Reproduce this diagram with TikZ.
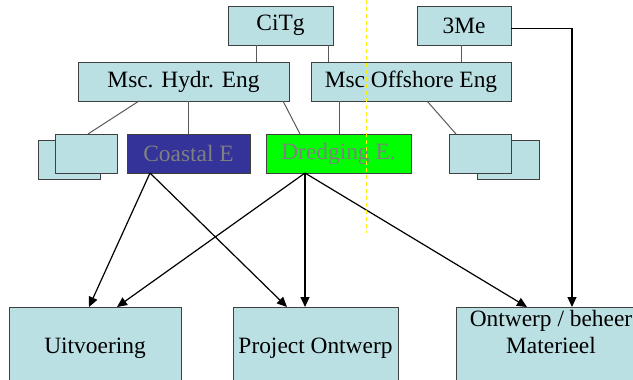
\documentclass[tikz,border=0pt]{standalone}
\usepackage{fontspec}
\setmainfont{Liberation Serif}
\usetikzlibrary{calc,arrows.meta}
\definecolor{boxblue}{HTML}{BBE0E3}
\definecolor{coastblue}{HTML}{333399}
\definecolor{dredgegreen}{HTML}{00FF00}
\definecolor{dimtext}{HTML}{808080}
\begin{document}
\begin{tikzpicture}[x=0.5pt,y=-0.5pt,font=\rmfamily\fontsize{11.7}{13.5}\selectfont,
  unit/.style={draw=black!75, line width=0.5pt, fill=boxblue, inner sep=0pt, outer sep=0pt, minimum height=19.5pt, anchor=north west, align=center},
  track/.style={unit, minimum height=41.5pt},
  link/.style={draw=black!65, line width=0.5pt},
  flow/.style={draw=black, line width=0.6pt, -{Triangle[length=5pt,width=4.5pt]}},
  guide/.style={draw=yellow, line width=0.5pt, dash pattern=on 2pt off 1.5pt}]
\useasboundingbox (0,0) rectangle (633,380);
\node[unit, minimum width=52.5pt] (citg) at (228,6) {CiTg};
\node[unit, minimum width=47pt] (me) at (417,6) {3Me};
\node[unit, minimum width=105.5pt] (hydr) at (78,62) {Msc. Hydr. Eng};
\node[unit, minimum width=100pt] (offsh) at (311,62) {Msc Offshore Eng};
\node[unit, minimum width=31pt] (lback) at (38,140) {};
\node[unit, minimum width=31pt] (lfront) at (55,134) {};
\node[unit, minimum width=61.5pt, fill=coastblue, text=dimtext] (coastal) at (127,134) {Coastal E};
\node[unit, minimum width=72.5pt, fill=dredgegreen, text=dimtext] (dredg) at (266,134) {Dredging E.};
\node[unit, minimum width=31pt] (rback) at (477,140) {};
\node[unit, minimum width=31pt] (rfront) at (449,134) {};
\node[track, minimum width=86pt] (uitv) at (9,307) {Uitvoering};
\node[track, minimum width=82.5pt] (proj) at (233,307) {Project Ontwerp};
\node[track, minimum width=95pt, text depth=17pt] (mat) at (456,307) {Ontwerp / beheer\\Materieel};
\coordinate (citgL) at ($(citg.south west)+(28,0)$);
\coordinate (citgR) at ($(citg.south west)+(100,0)$);
\coordinate (meS) at ($(me.south west)+(44,0)$);
\coordinate (offshL) at ($(offsh.south west)+(28,0)$);
\coordinate (coastS) at ($(coastal.south west)+(23,0)$);
\coordinate (dredgS) at ($(dredg.south west)+(39,0)$);
\coordinate (meE) at ($(me.east)+(0,3)$);
\coordinate (matN) at ($(mat.north west)+(116,0)$);
\draw[link] (citgL) -- (citgL |- hydr.north);
\draw[link] (citgR) -- (citgR |- offsh.north);
\draw[link] (meS) -- (meS |- offsh.north);
\draw[link] ($(hydr.south west)+(61,0)$) -- ($(lfront.north west)+(33,0)$);
\draw[link] (hydr.south -| coastal.north) -- (coastal.north);
\draw[link] ($(hydr.south west)+(205,0)$) -- ($(dredg.north west)+(34,0)$);
\draw[link] (offshL) -- (offshL |- dredg.north);
\draw[link] ($(offsh.south west)+(116,0)$) -- ($(rfront.north west)+(7,0)$);
\draw[flow] (coastS) -- ($(uitv.north west)+(80,0)$);
\draw[flow] (coastS) -- ($(proj.north west)+(54,0)$);
\draw[flow] (dredgS) -- ($(uitv.north west)+(108,0)$);
\draw[flow] (dredgS) -- (dredgS |- proj.north);
\draw[flow] (dredgS) -- ($(mat.north west)+(71,0)$);
\draw[flow] (meE) -| (matN);
\draw[guide] (366,0) -- (366,233);
\end{tikzpicture}
\end{document}
